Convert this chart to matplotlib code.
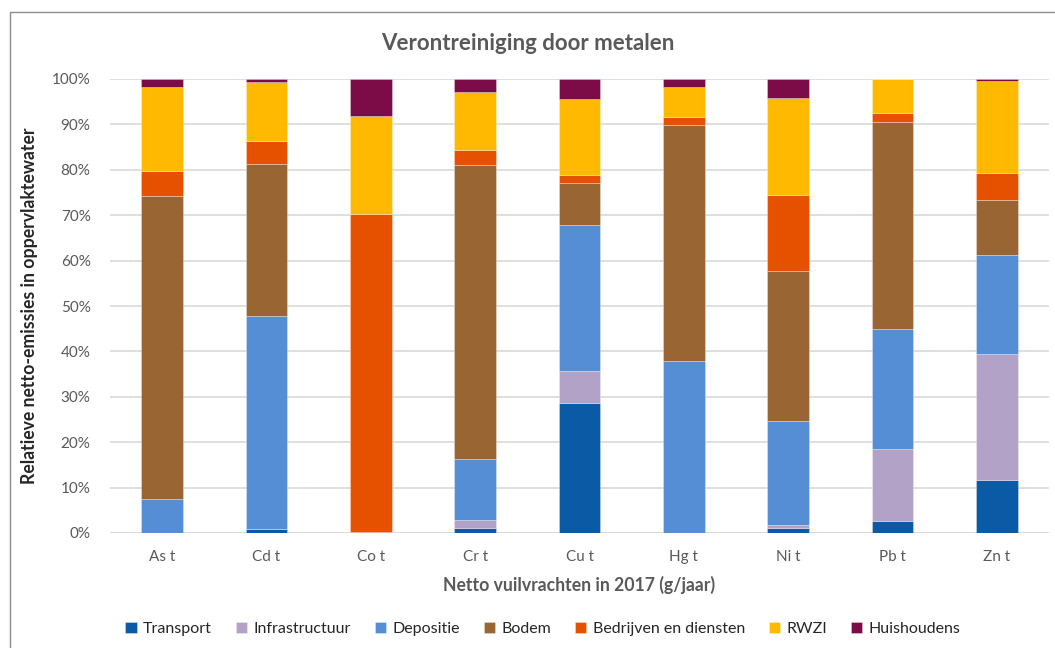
import matplotlib
matplotlib.use("Agg")
import matplotlib.pyplot as plt
from matplotlib.patches import Rectangle
from matplotlib.ticker import PercentFormatter
import numpy as np

categories = ["As t", "Cd t", "Co t", "Cr t", "Cu t", "Hg t", "Ni t", "Pb t", "Zn t"]
series_names = ["Transport", "Infrastructuur", "Depositie", "Bodem",
                "Bedrijven en diensten", "RWZI", "Huishoudens"]

transport      = [0.0, 0.9, 0.0, 1.1, 28.6, 0.0, 1.0, 2.6, 11.7]
infrastructuur = [0.0, 0.0, 0.0, 1.8, 7.1, 0.0, 0.8, 15.9, 27.7]
depositie      = [7.5, 46.9, 0.2, 13.4, 32.1, 37.9, 22.9, 26.4, 21.8]
bodem          = [66.7, 33.5, 0.1, 64.8, 9.4, 51.9, 33.0, 45.7, 12.2]
bedrijven      = [5.5, 5.0, 70.0, 3.3, 1.7, 1.8, 16.7, 2.0, 5.9]
rwzi           = [18.6, 13.0, 21.6, 12.7, 16.8, 6.7, 21.5, 7.4, 20.3]
huishoudens    = [1.7, 0.7, 8.1, 2.9, 4.3, 1.7, 4.1, 0.0, 0.4]

colors = ["#0B5AA5", "#B3A2C7", "#558ED5", "#996633", "#E65100", "#FFB900", "#7B0C47"]

series = [transport, infrastructuur, depositie, bodem, bedrijven, rwzi, huishoudens]

plt.rcParams['font.family'] = ['Lato', 'DejaVu Sans']

fig = plt.figure(figsize=(10.55, 6.48), dpi=100)
ax = fig.add_axes([110/1055, 1-533/648, (1049-110)/1055, (533-79)/648])

x = np.arange(len(categories))
bottom = np.zeros(len(categories))
for name, vals, c in zip(series_names, series, colors):
    v = np.array(vals, dtype=float)
    ax.bar(x, v, bottom=bottom, width=0.4, color=c, label=name,
           edgecolor=(1, 1, 1, 0.35), linewidth=0.6, zorder=3)
    bottom += v

ax.set_xlim(-0.5, len(categories) - 0.5)
ax.set_ylim(0, 100)
ax.set_yticks(np.arange(0, 101, 10))
ax.yaxis.set_major_formatter(PercentFormatter(decimals=0))
ax.set_xticks(x)
ax.set_xticklabels(categories)
ax.tick_params(axis='both', length=0, labelsize=11, labelcolor="#595959")
ax.tick_params(axis='x', pad=12)
ax.tick_params(axis='y', pad=14)
ax.grid(axis='y', color="#D9D9D9", linewidth=1.2, zorder=0)
for s in ax.spines.values():
    s.set_visible(False)
ax.axhline(0, color="#D9D9D9", linewidth=1.2, zorder=2)

ax.set_ylabel("Relatieve netto-emissies in oppervlaktewater", fontsize=12.7,
              fontweight='bold', color="#262626", labelpad=10)
ax.set_xlabel("Netto vuilvrachten in 2017 (g/jaar)", fontsize=12.7,
              fontweight='bold', color="#595959", labelpad=9)

fig.text(0.5, 1-43/648, "Verontreiniging door metalen", ha='center', va='center',
         fontsize=16, fontweight='bold', color="#595959")

handles, labels = ax.get_legend_handles_labels()
fig.legend(handles, labels, loc='center', bbox_to_anchor=(543/1055, 1-629/648), ncol=7,
           frameon=False, fontsize=11.5, handlelength=0.7, handleheight=0.7,
           handletextpad=0.4, columnspacing=1.5, labelcolor="#262626")

fig.patches.append(Rectangle((10/1055, -0.05), 1.1, 1-12/648+0.05,
                             transform=fig.transFigure, fill=False,
                             edgecolor="#8C8C8C", linewidth=1.0))

fig.savefig("out.png", dpi=100)
